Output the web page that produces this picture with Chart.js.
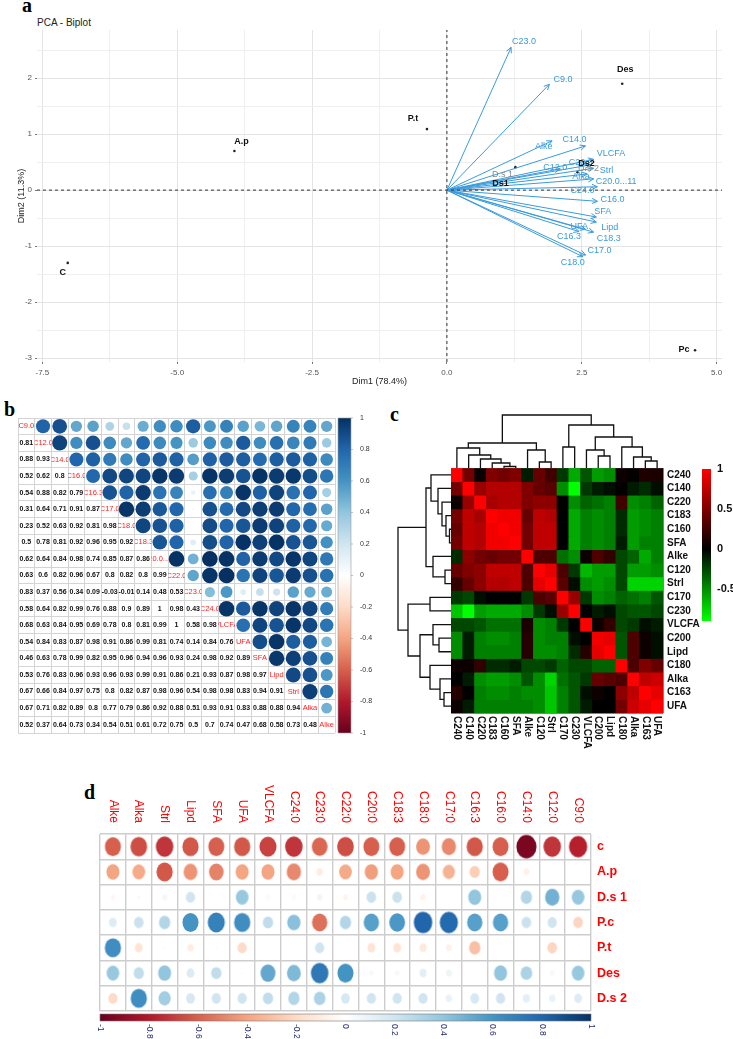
<!DOCTYPE html>
<html>
<head>
<meta charset="utf-8">
<title>PCA biplot and correlation panels</title>
<script src="https://cdn.jsdelivr.net/npm/chart.js@4.4.1/dist/chart.umd.min.js"></script>
<style>
  html, body { margin: 0; padding: 0; background: #fff; }
  body { position: relative; width: 733px; height: 1039px; overflow: hidden; font-family: "Liberation Sans", Arial, sans-serif; }
  canvas { position: absolute; }
  .panel { position: absolute; font-family: "Liberation Serif", "Times New Roman", serif; font-weight: bold; font-size: 20px; line-height: 20px; }
  .title { position: absolute; font-size: 10px; color: #222; }
</style>
</head>
<body>
<div class="panel" style="left:22px;top:-5px">a</div>
<div class="title" style="left:37px;top:17px">PCA - Biplot</div>
<div class="panel" style="left:4px;top:399px">b</div>
<div class="panel" style="left:390px;top:404px">c</div>
<div class="panel" style="left:84px;top:782px">d</div>
<canvas id="pa" width="733" height="391" style="left:0;top:0"></canvas>
<canvas id="pb" width="380" height="335" style="left:0;top:405px"></canvas>
<canvas id="pcTop" width="212" height="58" style="left:451px;top:410px"></canvas>
<canvas id="pcLeft" width="58" height="245" style="left:393px;top:468px"></canvas>
<canvas id="pc" width="353" height="360" style="left:380px;top:400px"></canvas>
<canvas id="pd" width="653" height="269" style="left:80px;top:770px"></canvas>
<script>
'use strict';

// ---------- panel a : PCA biplot ----------
const indNames = ['C', 'A.p', 'P.t', 'Des', 'Pc', 'Ds1', 'Ds2'];
const indX = [-7.03, -3.94, -0.37, 3.25, 4.6, 1.27, 2.42];
const indY = [-1.30, 0.70, 1.09, 1.90, -2.86, 0.41, 0.32];
const suppNames = ['D.s 1', 'D.s 2'];   // grey duplicates of Ds1 / Ds2

const varNames = ['C23.0', 'C9.0', 'Alke', 'C14.0', 'VLCFA', 'C22.0', 'C12.0', 'Strl', 'Alka', 'C20.0...11',
                  'C24.0', 'C16.0', 'SFA', 'Lipd', 'UFA', 'C18.3', 'C16.3', 'C17.0', 'C18.0'];
const varX = [1.19, 1.90, 1.95, 2.57, 2.72, 2.65, 2.10, 2.72, 2.60, 2.72, 2.79, 2.79, 2.77, 2.77, 2.57, 2.72, 2.45, 2.57, 2.52];
const varY = [2.55, 1.89, 0.88, 0.79, 0.55, 0.45, 0.38, 0.39, 0.29, 0.20, 0.06, -0.20, -0.48, -0.57, -0.70, -0.75, -0.74, -1.16, -1.19];

const xTicksA = [-7.5, -5, -2.5, 0, 2.5, 5];
const yTicksA = [-3, -2, -1, 0, 1, 2];

// ---------- panel b : correlation matrix (lower triangle rows) ----------
const corrVars = ['C9.0', 'C12.0', 'C14.0', 'C16.0', 'C16.3', 'C17.0', 'C18.0', 'C18.3', 'C20.0...11', 'C22.0',
                  'C23.0', 'C24.0', 'VLCFA', 'UFA', 'SFA', 'Lipd', 'Strl', 'Alka', 'Alke'];
const corrRows = [
  [],
  [0.81],
  [0.88, 0.93],
  [0.52, 0.62, 0.8],
  [0.54, 0.88, 0.82, 0.79],
  [0.31, 0.64, 0.71, 0.91, 0.87],
  [0.23, 0.52, 0.63, 0.92, 0.81, 0.98],
  [0.5, 0.78, 0.81, 0.92, 0.96, 0.95, 0.92],
  [0.62, 0.64, 0.84, 0.98, 0.74, 0.85, 0.87, 0.86],
  [0.63, 0.6, 0.82, 0.96, 0.67, 0.8, 0.82, 0.8, 0.99],
  [0.83, 0.37, 0.56, 0.34, 0.09, -0.03, -0.01, 0.14, 0.48, 0.53],
  [0.58, 0.64, 0.82, 0.99, 0.76, 0.88, 0.9, 0.89, 1, 0.98, 0.43],
  [0.68, 0.63, 0.84, 0.95, 0.69, 0.78, 0.8, 0.81, 0.99, 1, 0.58, 0.98],
  [0.54, 0.84, 0.83, 0.87, 0.98, 0.91, 0.86, 0.99, 0.81, 0.74, 0.14, 0.84, 0.76],
  [0.46, 0.63, 0.78, 0.99, 0.82, 0.95, 0.96, 0.94, 0.96, 0.93, 0.24, 0.98, 0.92, 0.89],
  [0.53, 0.76, 0.83, 0.96, 0.93, 0.96, 0.93, 0.99, 0.91, 0.86, 0.21, 0.93, 0.87, 0.98, 0.97],
  [0.67, 0.66, 0.84, 0.97, 0.75, 0.8, 0.82, 0.87, 0.98, 0.96, 0.54, 0.98, 0.98, 0.83, 0.94, 0.91],
  [0.67, 0.71, 0.82, 0.89, 0.8, 0.77, 0.79, 0.86, 0.92, 0.88, 0.51, 0.93, 0.91, 0.83, 0.88, 0.88, 0.94],
  [0.52, 0.37, 0.64, 0.73, 0.34, 0.54, 0.51, 0.61, 0.72, 0.75, 0.5, 0.7, 0.74, 0.47, 0.68, 0.58, 0.73, 0.48]
];
const corrBarTicks = [1, 0.8, 0.6, 0.4, 0.2, 0, -0.2, -0.4, -0.6, -0.8, -1];

// ---------- panel c : clustered heatmap ----------
const heatVars = ['C240', 'C140', 'C220', 'C183', 'C160', 'SFA', 'Alke', 'C120', 'Strl', 'C170', 'C230',
                  'VLCFA', 'C200', 'Lipd', 'C180', 'Alka', 'C163', 'UFA'];
const hmC240  = [1, 0.45, 0.05, 0.5, 0.45, 0.5, -0.1, 0.4, 0.25, -0.2, -0.6, -0.3, -0.55, -0.5, 0.05, 0.02, 0.12, 0.1];
const hmC140  = [0.45, 1, 0.6, 0.7, 0.7, 0.7, 0.5, 0.4, 0.35, -0.5, -0.9, -0.2, -0.1, -0.05, 0.02, -0.1, -0.15, -0.05];
const hmC220  = [0.05, 0.6, 1, 0.65, 0.7, 0.7, 0.5, 0.55, 0.55, 0, -0.5, -0.35, -0.4, -0.45, 0.25, -0.5, -0.45, -0.35];
const hmC183  = [0.45, 0.75, 0.65, 1, 0.95, 0.95, 0.4, 0.75, 0.7, 0, -0.6, -0.45, -0.5, -0.45, -0.15, -0.55, -0.5, -0.45];
const hmC160  = [0.4, 0.75, 0.7, 0.95, 1, 0.95, 0.45, 0.75, 0.75, 0, -0.6, -0.45, -0.5, -0.45, -0.15, -0.55, -0.5, -0.45];
const hmSFA   = [0.45, 0.75, 0.7, 0.95, 0.95, 1, 0.45, 0.75, 0.75, 0, -0.6, -0.45, -0.5, -0.45, -0.1, -0.55, -0.45, -0.45];
const hmAlke  = [-0.15, 0.55, 0.45, 0.4, 0.45, 0.45, 1, 0.3, 0.3, -0.4, -0.5, 0.05, 0.3, 0.2, -0.25, -0.35, -0.6, -0.45];
const hmC120  = [0.4, 0.5, 0.55, 0.75, 0.75, 0.75, 0.3, 1, 0.9, 0.3, -0.2, -0.65, -0.55, -0.55, -0.25, -0.55, -0.55, -0.5];
const hmStrl  = [0.2, 0.4, 0.55, 0.7, 0.7, 0.75, 0.3, 0.9, 1, 0.35, -0.05, -0.5, -0.55, -0.5, -0.25, -0.75, -0.75, -0.75];
const hmC170  = [-0.2, -0.25, -0.05, 0, 0, 0, -0.2, 0.3, 0.35, 1, 0.6, -0.2, -0.5, -0.45, -0.35, -0.4, -0.45, -0.3];
const hmC230  = [-0.7, -0.9, -0.55, -0.6, -0.6, -0.6, -0.5, -0.2, -0.05, 0.6, 1, 0, -0.1, -0.05, -0.25, -0.3, -0.3, -0.25];
const hmVLCFA = [-0.25, -0.25, -0.3, -0.4, -0.4, -0.4, 0.1, -0.5, -0.45, -0.2, 0, 1, 0.05, 0.2, -0.25, -0.2, -0.05, -0.1];
const hmC200  = [-0.5, -0.1, -0.45, -0.5, -0.5, -0.45, 0.15, -0.5, -0.45, -0.45, -0.05, 0, 0.95, 0.9, -0.3, 0.3, 0.05, -0.05];
const hmLipd  = [-0.5, -0.1, -0.45, -0.45, -0.45, -0.45, 0.15, -0.5, -0.5, -0.45, -0.15, 0.15, 0.9, 1, -0.3, 0.3, 0.05, -0.05];
const hmC180  = [0.05, 0.05, 0.2, -0.15, -0.15, -0.1, -0.25, -0.25, -0.2, -0.35, -0.25, -0.25, -0.35, -0.35, 1, 0.3, 0.5, 0.4];
const hmAlka  = [0, -0.1, -0.5, -0.55, -0.55, -0.5, -0.3, -0.5, -0.75, -0.4, -0.3, -0.2, 0.4, 0.35, 0.3, 1, 0.75, 0.8];
const hmC163  = [0.15, 0, -0.45, -0.5, -0.5, -0.45, -0.5, -0.5, -0.7, -0.45, -0.3, -0.05, 0.05, 0, 0.55, 0.75, 1, 0.9];
const hmUFA   = [0.05, -0.1, -0.45, -0.45, -0.45, -0.45, -0.45, -0.5, -0.7, -0.45, -0.3, -0.1, 0, 0, 0.45, 0.8, 0.9, 1];
const heatRows = [hmC240, hmC140, hmC220, hmC183, hmC160, hmSFA, hmAlke, hmC120, hmStrl, hmC170, hmC230,
                  hmVLCFA, hmC200, hmLipd, hmC180, hmAlka, hmC163, hmUFA];
const heatBarTicks = [1, 0.5, 0, -0.5];

// dendrogram, hclust style: negative = leaf (-(index+1)), otherwise earlier merge
const dendroLeft   = [-5, -4, -8, -17, -3, -16, -13, -2, -7, -12, -1, -10, -15, 10, 9, 11, 13];
const dendroRight  = [-6, 0, -9, -18, 1, 3, -14, 4, 2, 6, 7, -11, 5, 8, 12, 14, 15];
const dendroHeight = [1.5, 5, 6, 7, 9, 11, 12, 13, 18, 18, 20, 21, 21, 25, 31, 43, 53];

// ---------- panel d : samples vs variables ----------
const sampleVars = ['Alke', 'Alka', 'Strl', 'Lipd', 'SFA', 'UFA', 'VLCFA', 'C24:0', 'C23:0', 'C22:0',
                    'C20:0', 'C18:3', 'C18:0', 'C17:0', 'C16:3', 'C16:0', 'C14:0', 'C12:0', 'C9:0'];
const sampleNames = ['c', 'A.p', 'D.s 1', 'P.c', 'P.t', 'Des', 'D.s 2'];
const smpC   = [-0.6, -0.65, -0.72, -0.62, -0.6, -0.62, -0.68, -0.72, -0.58, -0.65, -0.6, -0.6, -0.45, -0.48, -0.62, -0.6, -0.95, -0.72, -0.78];
const smpAp  = [-0.4, -0.38, -0.62, -0.45, -0.5, -0.4, -0.4, -0.48, -0.1, -0.38, -0.42, -0.4, -0.45, -0.35, -0.25, -0.6, -0.08, -0.02, 0];
const smpDs1 = [-0.05, 0.03, 0.06, 0.2, 0, 0.38, -0.04, -0.04, 0.07, -0.06, 0.22, 0.22, -0.07, 0, 0.4, 0, 0.3, 0.48, 0.38];
const smpPc  = [0.15, 0.22, 0.3, 0.6, 0.68, 0.62, 0.25, 0.42, -0.55, 0.3, 0.55, 0.58, 0.8, 0.78, 0.55, 0.55, 0.22, 0.2, -0.22];
const smpPt  = [0.62, -0.15, -0.02, -0.1, -0.02, -0.2, 0, -0.01, 0.2, 0, -0.15, -0.15, -0.12, -0.08, -0.3, 0, 0, -0.22, 0];
const smpDes = [0.38, 0.25, 0.4, 0.15, 0.25, 0.02, 0.52, 0.45, 0.72, 0.6, 0.05, 0.05, 0.12, 0.08, 0.01, 0.4, 0.32, 0.05, 0.38];
const smpDs2 = [-0.2, 0.62, 0.35, 0.18, 0.2, 0.2, 0.25, 0.3, 0.32, 0.18, 0.2, 0.2, 0.2, 0.1, 0.18, 0.2, 0.12, 0.1, 0.15];
const sampleRows = [smpC, smpAp, smpDs1, smpPc, smpPt, smpDes, smpDs2];
const sampleBarTicks = [-1, -0.8, -0.6, -0.4, -0.2, 0, 0.2, 0.4, 0.6, 0.8, 1];

// ---------- shared helpers ----------
Chart.defaults.font.family = '"Liberation Sans", Arial, sans-serif';
Chart.defaults.animation = false;
Chart.defaults.responsive = false;
Chart.defaults.events = [];
Chart.defaults.plugins.legend.display = false;
Chart.defaults.plugins.tooltip.enabled = false;

const rdbu = ['#67001F', '#B2182B', '#D6604D', '#F4A582', '#FDDBC7', '#FFFFFF', '#D1E5F0', '#92C5DE', '#4393C3', '#2166AC', '#053061'];
const rdbuRgb = rdbu.map(h => [parseInt(h.slice(1, 3), 16), parseInt(h.slice(3, 5), 16), parseInt(h.slice(5, 7), 16)]);
function corrColor(v) {
  const t = (Math.max(-1, Math.min(1, v)) + 1) / 2 * (rdbuRgb.length - 1);
  const i = Math.min(Math.floor(t), rdbuRgb.length - 2), f = t - i;
  const a = rdbuRgb[i], b = rdbuRgb[i + 1];
  return 'rgb(' + [0, 1, 2].map(k => Math.round(a[k] + (b[k] - a[k]) * f)).join(',') + ')';
}
function heatColor(v) {
  if (v >= 0) return 'rgb(' + Math.round(255 * Math.min(1, v)) + ',0,0)';
  return 'rgb(0,' + Math.round(255 * Math.min(1, -v / 0.9)) + ',0)';
}
function fixedTicks(values) {
  return s => { s.ticks = values.map(v => ({ value: v })); };
}
function range(n) { return Array.from({ length: n }, (_, i) => i); }

// ================= panel a =================
const varColor = '#3A9BDC';
const xMinA = -7.6, xMaxA = 5.1, yMinA = -3.07, yMaxA = 2.86;
const gridXA = [-7.5, -6.25, -5, -3.75, -2.5, -1.25, 0, 1.25, 2.5, 3.75, 5];
const gridYA = [-3, -2.5, -2, -1.5, -1, -0.5, 0, 0.5, 1, 1.5, 2, 2.5];
// label nudges in px (layout only)
const varNudge = {
  'C23.0': [1, -6], 'C9.0': [4, -5], 'Alke': [-17, 6], 'C14.0': [-23, -6], 'VLCFA': [3, -6], 'C22.0': [-21, -2],
  'C12.0': [-17, -1], 'Strl': [6, 2], 'Alka': [-15, 3], 'C20.0...11': [2, 3], 'C24.0': [-27, 4], 'C16.0': [3, -2],
  'SFA': [-2, -5], 'Lipd': [5, 5], 'UFA': [-15, -3], 'C18.3': [3, 6], 'C16.3': [-22, 5], 'C17.0': [2, -5], 'C18.0': [-22, 6]
};
const indNudge = { 'C': [-5, 10], 'A.p': [7, -9], 'P.t': [-14, -11], 'Des': [3, -14], 'Pc': [-11, -1], 'Ds1': [-15, 16], 'Ds2': [9, -9] };
const suppNudge = { 'D.s 1': [-13, 7], 'D.s 2': [11, -4] };

const aDatasets = [
  { kind: 'ref', data: [{ x: xMinA, y: 0 }, { x: xMaxA, y: 0 }], showLine: true, borderColor: '#333', borderWidth: 1, borderDash: [3, 3], pointRadius: 0 },
  { kind: 'ref', data: [{ x: 0, y: yMinA }, { x: 0, y: yMaxA }], showLine: true, borderColor: '#333', borderWidth: 1, borderDash: [3, 3], pointRadius: 0 }
];
varNames.forEach((n, i) => {
  aDatasets.push({ kind: 'arrow', label: n, data: [{ x: 0, y: 0 }, { x: varX[i], y: varY[i] }],
                   showLine: true, borderColor: varColor, borderWidth: 1, pointRadius: 0 });
});
aDatasets.push({ kind: 'ind', data: indNames.map((n, i) => ({ x: indX[i], y: indY[i], name: n })),
                 pointRadius: 1.3, pointBackgroundColor: '#222', pointBorderWidth: 0 });

const biplotLabels = {
  id: 'biplotLabels',
  afterDatasetsDraw(chart) {
    const ctx = chart.ctx;
    ctx.save();
    ctx.textBaseline = 'middle';
    chart.data.datasets.forEach((ds, i) => {
      const pts = chart.getDatasetMeta(i).data;
      if (ds.kind === 'arrow') {
        const a = pts[0], b = pts[1];
        const ang = Math.atan2(b.y - a.y, b.x - a.x);
        ctx.strokeStyle = varColor;
        ctx.lineWidth = 1;
        ctx.beginPath();
        ctx.moveTo(b.x - 6 * Math.cos(ang - 0.45), b.y - 6 * Math.sin(ang - 0.45));
        ctx.lineTo(b.x, b.y);
        ctx.lineTo(b.x - 6 * Math.cos(ang + 0.45), b.y - 6 * Math.sin(ang + 0.45));
        ctx.stroke();
        const n = varNudge[ds.label] || [3, 0];
        ctx.fillStyle = varColor;
        ctx.font = '9px "Liberation Sans", Arial, sans-serif';
        ctx.textAlign = 'left';
        ctx.fillText(ds.label, b.x + n[0], b.y + n[1]);
      }
      if (ds.kind === 'ind') {
        pts.forEach((p, k) => {
          const name = ds.data[k].name;
          const n = indNudge[name];
          ctx.textAlign = 'center';
          if (name === 'Ds1' || name === 'Ds2') {
            const s = name === 'Ds1' ? suppNames[0] : suppNames[1];
            const sn = suppNudge[s];
            ctx.fillStyle = '#888';
            ctx.font = '9px "Liberation Sans", Arial, sans-serif';
            ctx.fillText(s, p.x + sn[0], p.y + sn[1]);
          }
          ctx.fillStyle = '#111';
          ctx.font = 'bold 9px "Liberation Sans", Arial, sans-serif';
          ctx.fillText(name, p.x + n[0], p.y + n[1]);
        });
      }
    });
    ctx.restore();
  }
};

new Chart(document.getElementById('pa'), {
  type: 'scatter',
  data: { datasets: aDatasets },
  options: {
    layout: { padding: { left: 12, top: 30, right: 11, bottom: 0 } },
    scales: {
      x: {
        type: 'linear', min: xMinA, max: xMaxA,
        afterBuildTicks: fixedTicks(gridXA),
        afterFit: s => { s.height = 29; },
        ticks: { autoSkip: false, maxRotation: 0, padding: 4, color: '#555', font: { size: 8 },
                 callback: v => xTicksA.includes(v) ? v.toFixed(1) : '' },
        grid: { color: c => xTicksA.includes(c.tick.value) ? '#e4e4e4' : '#efefef', tickLength: 2,
                tickColor: c => xTicksA.includes(c.tick.value) ? '#777' : 'rgba(0,0,0,0)' },
        border: { display: false },
        title: { display: true, text: 'Dim1 (78.4%)', color: '#222', font: { size: 9 } }
      },
      y: {
        type: 'linear', min: yMinA, max: yMaxA,
        afterBuildTicks: fixedTicks(gridYA),
        afterFit: s => { s.width = 25; },
        ticks: { autoSkip: false, padding: 3, color: '#555', font: { size: 8 },
                 callback: v => yTicksA.includes(v) ? String(v) : '' },
        grid: { color: c => yTicksA.includes(c.tick.value) ? '#e4e4e4' : '#efefef', tickLength: 2,
                tickColor: c => yTicksA.includes(c.tick.value) ? '#777' : 'rgba(0,0,0,0)' },
        border: { display: false },
        title: { display: true, text: 'Dim2 (11.3%)', color: '#222', font: { size: 9 } }
      }
    }
  },
  plugins: [biplotLabels]
});

// ================= panel b =================
const nB = corrVars.length;
const bPoints = [];
for (let i = 0; i < nB; i++) {
  for (let j = i + 1; j < nB; j++) bPoints.push({ x: j + 0.5, y: i + 0.5, v: corrRows[j][i] });
}
const corrDecor = {
  id: 'corrDecor',
  afterDatasetsDraw(chart) {
    const { ctx, chartArea: ca, scales: { x, y } } = chart;
    const cw = x.getPixelForValue(1) - x.getPixelForValue(0);
    ctx.save();
    ctx.textAlign = 'center';
    ctx.textBaseline = 'middle';
    for (let i = 0; i < nB; i++) {
      const cy = y.getPixelForValue(i + 0.5);
      for (let j = 0; j < i; j++) {
        ctx.fillStyle = '#111';
        ctx.font = 'bold 7px "Liberation Sans Narrow", "Liberation Sans", sans-serif';
        ctx.fillText(String(corrRows[i][j]), x.getPixelForValue(j + 0.5), cy);
      }
      const cx = x.getPixelForValue(i + 0.5);
      ctx.save();
      ctx.beginPath();
      ctx.rect(cx - cw / 2, cy - cw / 2, cw, cw);
      ctx.clip();
      ctx.fillStyle = '#FF2020';
      ctx.font = '7.5px "Liberation Sans Narrow", "Liberation Sans", sans-serif';
      ctx.fillText(corrVars[i], cx, cy);
      ctx.restore();
    }
    // colour bar
    const x0 = ca.right + 3, w = 13;
    const g = ctx.createLinearGradient(0, ca.top, 0, ca.bottom);
    rdbu.slice().reverse().forEach((c, k) => g.addColorStop(k / (rdbu.length - 1), c));
    ctx.fillStyle = g;
    ctx.fillRect(x0, ca.top, w, ca.bottom - ca.top);
    ctx.strokeStyle = '#999';
    ctx.lineWidth = 0.6;
    ctx.strokeRect(x0, ca.top, w, ca.bottom - ca.top);
    ctx.fillStyle = '#333';
    ctx.font = '7px "Liberation Sans", Arial, sans-serif';
    ctx.textAlign = 'left';
    corrBarTicks.forEach(v => {
      const ty = ca.top + (1 - v) / 2 * (ca.bottom - ca.top);
      ctx.beginPath();
      ctx.moveTo(x0 + w, ty);
      ctx.lineTo(x0 + w + 2, ty);
      ctx.stroke();
      ctx.fillText(String(v), x0 + w + 9, ty);
    });
    ctx.restore();
  }
};
new Chart(document.getElementById('pb'), {
  type: 'scatter',
  data: { datasets: [{
    data: bPoints,
    pointRadius: c => c.raw ? Math.sqrt(Math.abs(c.raw.v)) * (c.chart.scales.x.getPixelForValue(1) - c.chart.scales.x.getPixelForValue(0)) * 0.47 : 0,
    pointBackgroundColor: c => c.raw ? corrColor(c.raw.v) : '#fff',
    pointBorderWidth: 0
  }] },
  options: {
    layout: { padding: { left: 18, top: 13, right: 45, bottom: 7 } },
    scales: {
      x: { type: 'linear', min: 0, max: nB, afterBuildTicks: fixedTicks(range(nB + 1)), afterFit: s => { s.height = 0; },
           ticks: { display: false }, grid: { color: '#d4d4d4', drawTicks: false }, border: { display: false } },
      y: { type: 'linear', min: 0, max: nB, reverse: true, afterBuildTicks: fixedTicks(range(nB + 1)), afterFit: s => { s.width = 0; },
           ticks: { display: false }, grid: { color: '#d4d4d4', drawTicks: false }, border: { display: false } }
    }
  },
  plugins: [corrDecor]
});

// ================= panel c =================
const nH = heatVars.length;
function dendroSegments() {
  const pos = [];
  const node = k => k < 0 ? [-k - 1, 0] : [pos[k], dendroHeight[k]];
  return dendroLeft.map((a, k) => {
    const b = dendroRight[k], h = dendroHeight[k];
    const [pa, ha] = node(a), [pb, hb] = node(b);
    pos[k] = (pa + pb) / 2;
    return [[pa, ha], [pa, h], [pb, h], [pb, hb]];
  });
}
const segs = dendroSegments();
const segStyle = { showLine: true, borderColor: '#111', borderWidth: 1.3, pointRadius: 0, clip: false };
const hiddenLinear = (min, max, reverse) => ({ type: 'linear', display: false, min, max, reverse: !!reverse });

new Chart(document.getElementById('pcTop'), {
  type: 'scatter',
  data: { datasets: segs.map(s => Object.assign({ data: s.map(([p, h]) => ({ x: p, y: h })) }, segStyle)) },
  options: { layout: { padding: 0 }, scales: { x: hiddenLinear(-0.5, nH - 0.5), y: hiddenLinear(0, 58) } }
});
new Chart(document.getElementById('pcLeft'), {
  type: 'scatter',
  data: { datasets: segs.map(s => Object.assign({ data: s.map(([p, h]) => ({ x: h, y: p })) }, segStyle)) },
  options: { layout: { padding: 0 }, scales: { x: hiddenLinear(0, 58, true), y: hiddenLinear(-0.5, nH - 0.5, true) } }
});

const heatDecor = {
  id: 'heatDecor',
  afterDraw(chart) {
    const { ctx, chartArea: ca, scales: { x, y } } = chart;
    ctx.save();
    ctx.fillStyle = '#111';
    ctx.font = 'bold 10px "Liberation Sans", Arial, sans-serif';
    ctx.textAlign = 'left';
    ctx.textBaseline = 'middle';
    heatVars.forEach((n, i) => ctx.fillText(n, ca.right + 4, y.getPixelForValue(i + 0.5)));
    heatVars.forEach((n, i) => {
      ctx.save();
      ctx.translate(x.getPixelForValue(i + 0.5), ca.bottom + 3);
      ctx.rotate(Math.PI / 2);
      ctx.fillText(n, 0, 0);
      ctx.restore();
    });
    // colour key: 1 at top, 80 px per unit
    const cbX = ca.right + 39, cbW = 9, cbTop = ca.top + 1, pxUnit = 80, cbBottom = cbTop + 1.9 * pxUnit;
    const g = ctx.createLinearGradient(0, cbTop, 0, cbBottom);
    g.addColorStop(0, '#FF0000');
    g.addColorStop(1 / 1.9, '#000000');
    g.addColorStop(1, '#00FF00');
    ctx.fillStyle = g;
    ctx.fillRect(cbX, cbTop, cbW, cbBottom - cbTop);
    ctx.fillStyle = '#111';
    ctx.font = 'bold 11px "Liberation Sans", Arial, sans-serif';
    heatBarTicks.forEach(v => ctx.fillText(String(v), cbX + cbW + 6, cbTop + (1 - v) * pxUnit));
    ctx.restore();
  }
};
new Chart(document.getElementById('pc'), {
  type: 'bar',
  data: { datasets: heatRows.map((row, r) => ({
    data: row.map((v, j) => ({ x: j + 0.5, y: [r, r + 1] })),
    backgroundColor: row.map(heatColor),
    borderWidth: 0, grouped: false, barPercentage: 1, categoryPercentage: 1
  })) },
  options: {
    layout: { padding: { left: 71, top: 68, right: 70, bottom: 47 } },
    scales: {
      x: { type: 'linear', min: 0, max: nH, offset: false, z: 1, afterBuildTicks: fixedTicks(range(nH + 1)), afterFit: s => { s.height = 0; },
           ticks: { display: false }, grid: { color: '#808080', drawTicks: false, offset: false }, border: { display: false } },
      y: { type: 'linear', min: 0, max: nH, reverse: true, z: 1, afterBuildTicks: fixedTicks(range(nH + 1)), afterFit: s => { s.width = 0; },
           ticks: { display: false }, grid: { color: '#808080', drawTicks: false }, border: { display: false } }
    }
  },
  plugins: [heatDecor]
});

// ================= panel d =================
const nDX = sampleVars.length, nDY = sampleNames.length;
const dPoints = [];
sampleRows.forEach((row, r) => row.forEach((v, j) => dPoints.push({ x: j + 0.5, y: r + 0.5, v })));
const ellipseCache = {};
function ellipseImg(v, cw, ch) {
  const key = v + '_' + cw.toFixed(1);
  if (ellipseCache[key]) return ellipseCache[key];
  const s = Math.sqrt(Math.abs(v));
  const rx = Math.max(0.6, 0.40 * cw * s), ry = Math.max(0.7, 0.48 * ch * s);
  const c = document.createElement('canvas');
  c.width = Math.ceil(2 * rx + 2);
  c.height = Math.ceil(2 * ry + 2);
  const g = c.getContext('2d');
  g.fillStyle = corrColor(v);
  g.beginPath();
  g.ellipse(c.width / 2, c.height / 2, rx, ry, 0, 0, Math.PI * 2);
  g.fill();
  ellipseCache[key] = c;
  return c;
}
const sampleDecor = {
  id: 'sampleDecor',
  afterDraw(chart) {
    const { ctx, chartArea: ca, scales: { x, y } } = chart;
    ctx.save();
    ctx.textBaseline = 'middle';
    ctx.fillStyle = '#FF0000';
    ctx.font = '12px "Liberation Sans", Arial, sans-serif';
    ctx.textAlign = 'right';
    sampleVars.forEach((n, j) => {
      ctx.save();
      ctx.translate(x.getPixelForValue(j + 0.5), ca.top - 11);
      ctx.rotate(Math.PI / 2);
      ctx.fillText(n, 0, 0);
      ctx.restore();
    });
    ctx.textAlign = 'left';
    ctx.font = 'bold 12.5px "Liberation Sans", Arial, sans-serif';
    sampleNames.forEach((n, r) => ctx.fillText(n, ca.right + 6, y.getPixelForValue(r + 0.5)));
    // colour bar under the grid
    const cbTop = ca.bottom + 3, cbH = 7;
    const g = ctx.createLinearGradient(ca.left, 0, ca.right, 0);
    rdbu.forEach((c, k) => g.addColorStop(k / (rdbu.length - 1), c));
    ctx.fillStyle = g;
    ctx.fillRect(ca.left, cbTop, ca.right - ca.left, cbH);
    ctx.strokeStyle = '#777';
    ctx.lineWidth = 0.6;
    ctx.strokeRect(ca.left, cbTop, ca.right - ca.left, cbH);
    ctx.fillStyle = '#1f2a6e';
    ctx.font = '8.5px "Liberation Sans", Arial, sans-serif';
    sampleBarTicks.forEach(v => {
      const tx = ca.left + (v + 1) / 2 * (ca.right - ca.left);
      ctx.save();
      ctx.translate(tx, cbTop + cbH + 3);
      ctx.rotate(Math.PI / 2);
      ctx.fillText(String(v), 0, 0);
      ctx.restore();
    });
    ctx.restore();
  }
};
new Chart(document.getElementById('pd'), {
  type: 'scatter',
  data: { datasets: [{
    data: dPoints,
    pointRadius: 3,
    pointBorderWidth: 0,
    pointStyle: c => {
      if (!c.raw) return 'circle';
      const sx = c.chart.scales.x, sy = c.chart.scales.y;
      return ellipseImg(c.raw.v, sx.getPixelForValue(1) - sx.getPixelForValue(0), sy.getPixelForValue(1) - sy.getPixelForValue(0));
    }
  }] },
  options: {
    layout: { padding: { left: 20, top: 64, right: 142, bottom: 28 } },
    scales: {
      x: { type: 'linear', min: 0, max: nDX, afterBuildTicks: fixedTicks(range(nDX + 1)), afterFit: s => { s.height = 0; },
           ticks: { display: false }, grid: { color: '#cdcdcd', lineWidth: 1.4, drawTicks: false }, border: { display: false } },
      y: { type: 'linear', min: 0, max: nDY, reverse: true, afterBuildTicks: fixedTicks(range(nDY + 1)), afterFit: s => { s.width = 0; },
           ticks: { display: false }, grid: { color: '#cdcdcd', lineWidth: 1.4, drawTicks: false }, border: { display: false } }
    }
  },
  plugins: [sampleDecor]
});
</script>
</body>
</html>
